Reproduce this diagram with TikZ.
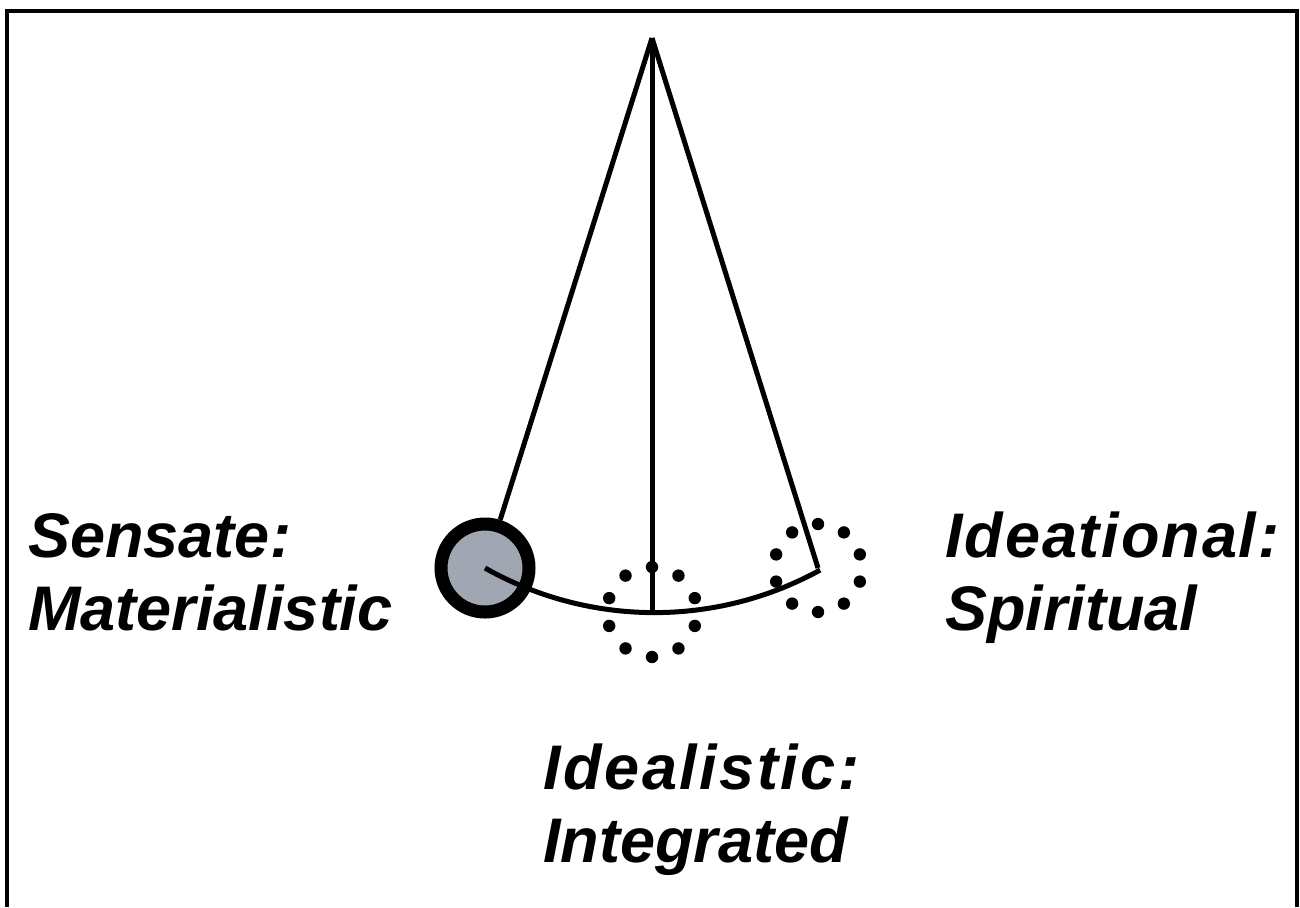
\documentclass[tikz,border=0pt]{standalone}
\usepackage{fontspec}
\setmainfont{Liberation Sans}
\usetikzlibrary{positioning,calc}

\definecolor{bobgray}{RGB}{160,167,178}

\begin{document}
\begin{tikzpicture}[
  x=0.5pt, y=-0.5pt,
  string/.style={draw, line width=2.5pt},
  bob/.style={draw, circle, line width=6.5pt, fill=bobgray, minimum size=44pt, inner sep=0pt},
  dot/.style={fill, circle, inner sep=0pt, minimum size=6.2pt},
  label/.style={anchor=base west, inner sep=0pt, align=left,
    font=\fontsize{31.5}{36.5}\selectfont\bfseries\itshape}
]
\useasboundingbox (0,0) rectangle (1300,907);

% Frame (open at the bottom)
\draw[line width=2pt] (6.5,907) -- (6.5,10.5) -- (1297,10.5) -- (1297,907);

% Points of the pendulum
\coordinate (pivot) at (652,38);
\coordinate (bob) at (485,568);
\coordinate (mid) at (652,612);
\coordinate (right) at (818,568);

% Bob
\node[bob] (ball) at (bob) {};

% Strings
\draw[string] (pivot) -- (ball);
\draw[string] (pivot) -- (mid);
\draw[string] (pivot) -- (right);

% Swing arc through the three positions
\draw[string] (bob) arc[start angle=119.5, end angle=61.2, radius=344];

% Dotted circles of the other two positions
\foreach \a in {90,126,...,414} {
  \node[dot] at ($(mid)+(\a:45)$) {};
  \node[dot] at ($(right)+(\a:44)$) {};
}

% Labels (anchored at the baseline of the second line)
\node[label] (sensate) at (28,630) {Sensate:\\Materialistic};
\node[label] (ideational) at (945,630) {{\addfontfeature{LetterSpace=3}Ideational:}\\Spiritual};
\node[label] (idealistic) at (543,862) {{\addfontfeature{LetterSpace=4}Idealistic:}\\Integrated};

\end{tikzpicture}
\end{document}
